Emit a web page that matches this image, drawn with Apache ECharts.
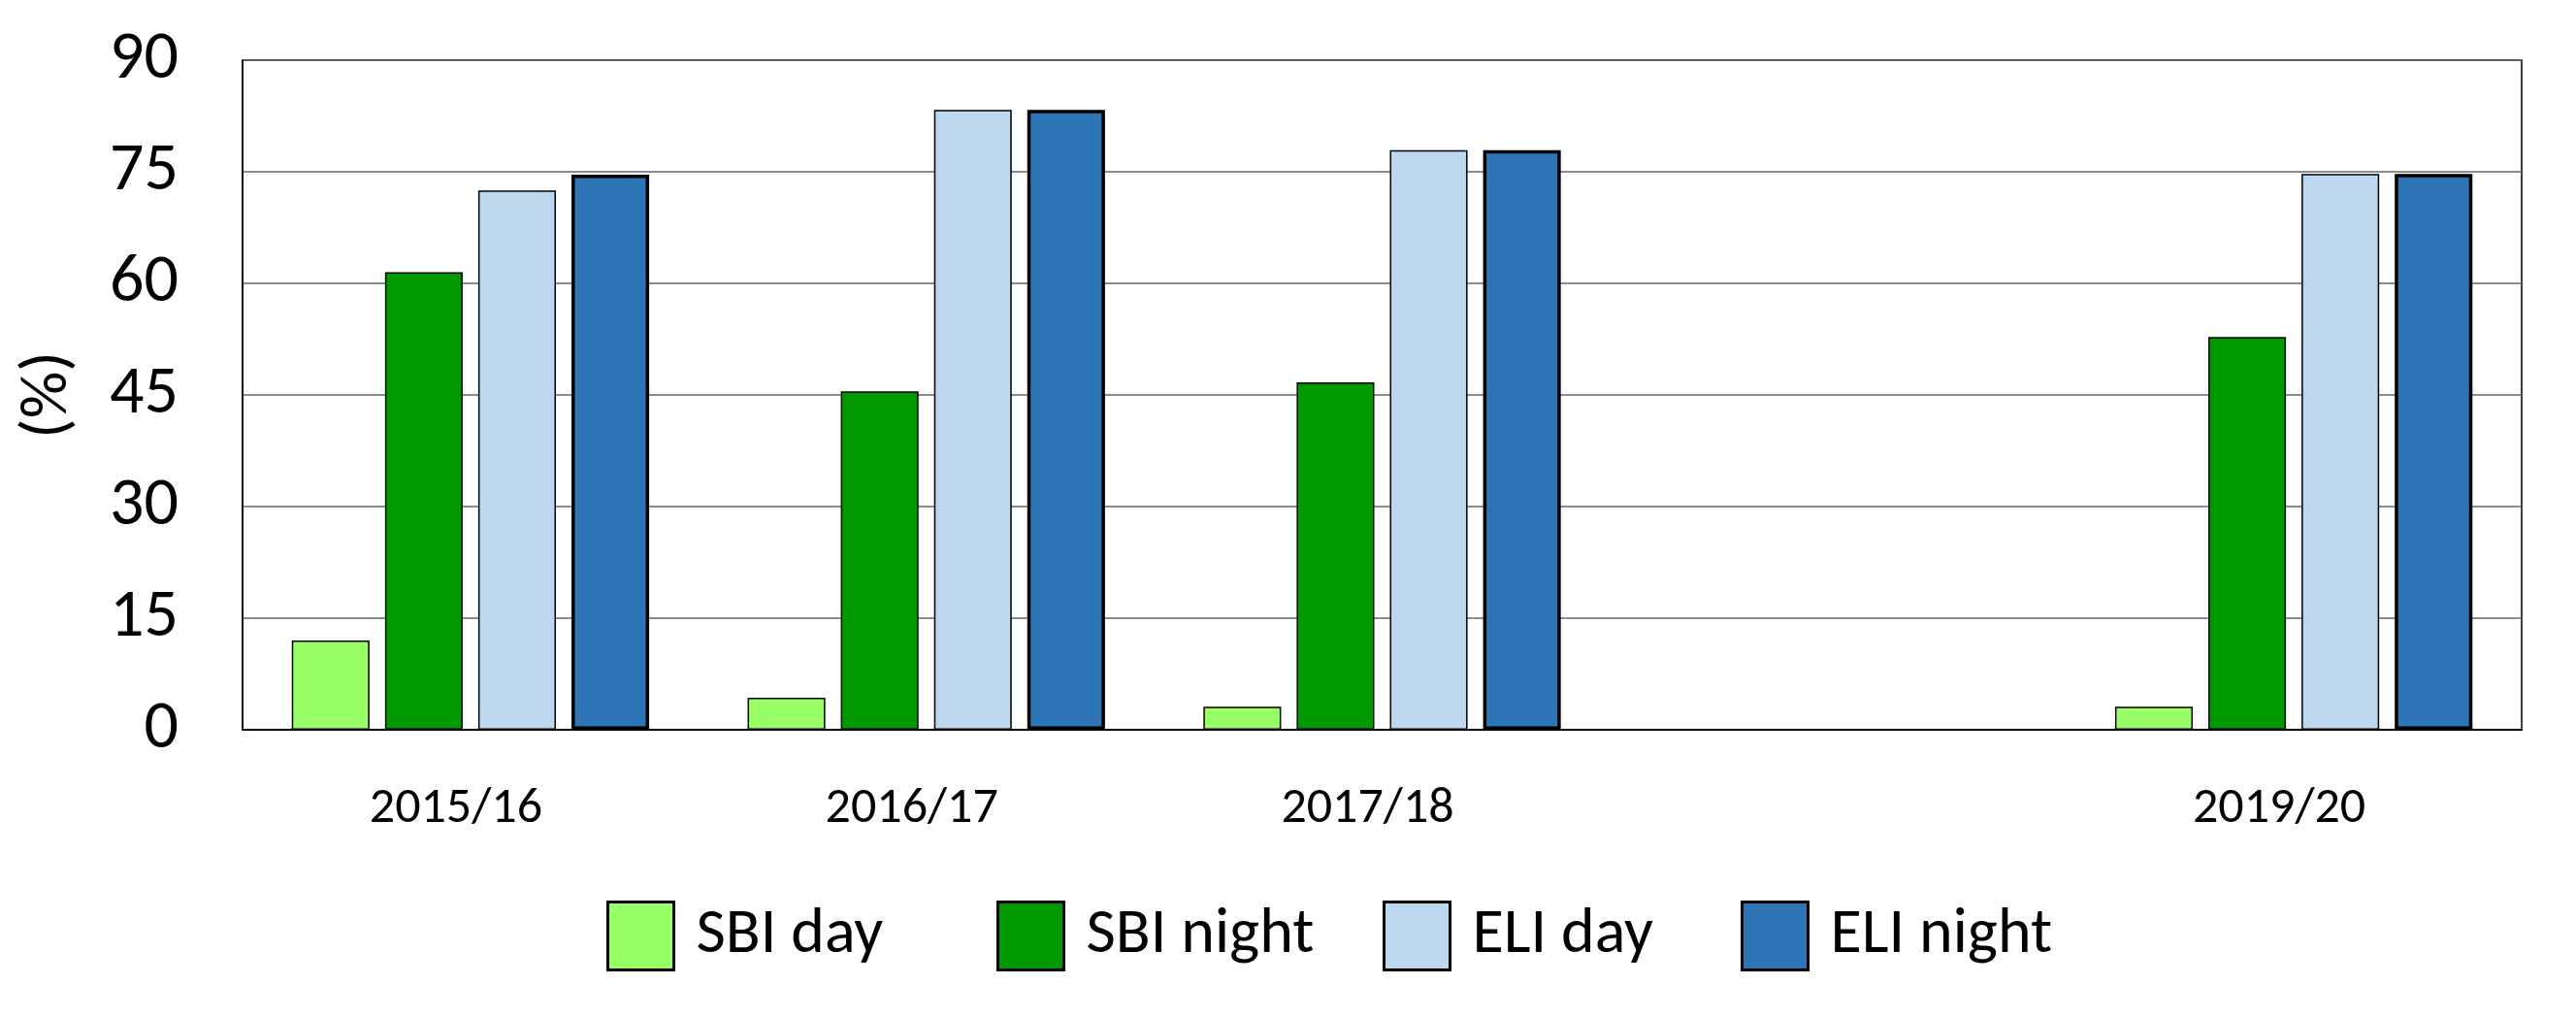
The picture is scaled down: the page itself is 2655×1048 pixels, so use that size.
<!DOCTYPE html>
<html>
<head>
<meta charset="utf-8">
<script src="https://cdn.jsdelivr.net/npm/echarts@6/dist/echarts.min.js"></script>
<style>
html,body{margin:0;padding:0;background:#fff;}
#chart{width:2655px;height:1048px;}
</style>
</head>
<body>
<div id="chart"></div>
<script>
const categories = ['2015/16', '2016/17', '2017/18', '', '2019/20'];
const sbiDay   = [12.0, 4.3, 3.1, null, 3.1];
const sbiNight = [61.5, 45.5, 46.7, null, 52.8];
const eliDay   = [72.5, 83.3, 77.9, null, 74.7];
const eliNight = [74.6, 83.3, 77.9, null, 74.7];
const yTicks = [0, 15, 30, 45, 60, 75, 90];

const FONT = 'Carlito, Lato, sans-serif';
const names = ['SBI day', 'SBI night', 'ELI day', 'ELI night'];
const colors = ['#99FF66', '#009900', '#BDD7EE', '#2E75B6'];
const borders = [1.5, 1.5, 1.5, 3.5];
const seriesData = [sbiDay, sbiNight, eliDay, eliNight];
const legendLeft = [620, 1022, 1420, 1789];

const chart = echarts.init(document.getElementById('chart'), null, {renderer: 'canvas'});
chart.setOption({
  backgroundColor: '#ffffff',
  animation: false,
  grid: {
    left: 250, right: 56, top: 62, bottom: 296,
    show: true, borderColor: '#000000', borderWidth: 1.5, backgroundColor: 'transparent'
  },
  legend: names.map((n, i) => ({
    data: [n],
    left: legendLeft[i],
    top: 923,
    itemWidth: 68,
    itemHeight: 70,
    icon: 'rect',
    itemStyle: {borderColor: '#000000', borderWidth: 3},
    textStyle: {fontFamily: FONT, fontSize: 66, color: '#000000', padding: [0, 0, 0, 18]}
  })),
  xAxis: {
    type: 'category',
    data: categories,
    axisLine: {lineStyle: {color: '#000000', width: 2}},
    axisTick: {show: false},
    axisLabel: {fontFamily: FONT, fontSize: 52, color: '#000000', margin: 56, padding: [0, 30, 0, 0]}
  },
  yAxis: {
    type: 'value',
    min: yTicks[0],
    max: yTicks[yTicks.length - 1],
    interval: 15,
    name: '(%)',
    nameLocation: 'middle',
    nameRotate: 90,
    nameGap: 165,
    nameTextStyle: {fontFamily: FONT, fontSize: 68, color: '#000000'},
    axisLine: {show: true, lineStyle: {color: '#000000', width: 1.5}},
    axisTick: {show: false},
    axisLabel: {fontFamily: FONT, fontSize: 70, color: '#000000', margin: 66},
    splitLine: {lineStyle: {color: '#666666', width: 1.5}}
  },
  series: names.map((n, i) => ({
    name: n,
    type: 'bar',
    data: seriesData[i],
    barCategoryGap: '21.6%',
    barGap: '20%',
    itemStyle: {color: colors[i], borderColor: '#000000', borderWidth: borders[i]}
  }))
});
</script>
</body>
</html>
